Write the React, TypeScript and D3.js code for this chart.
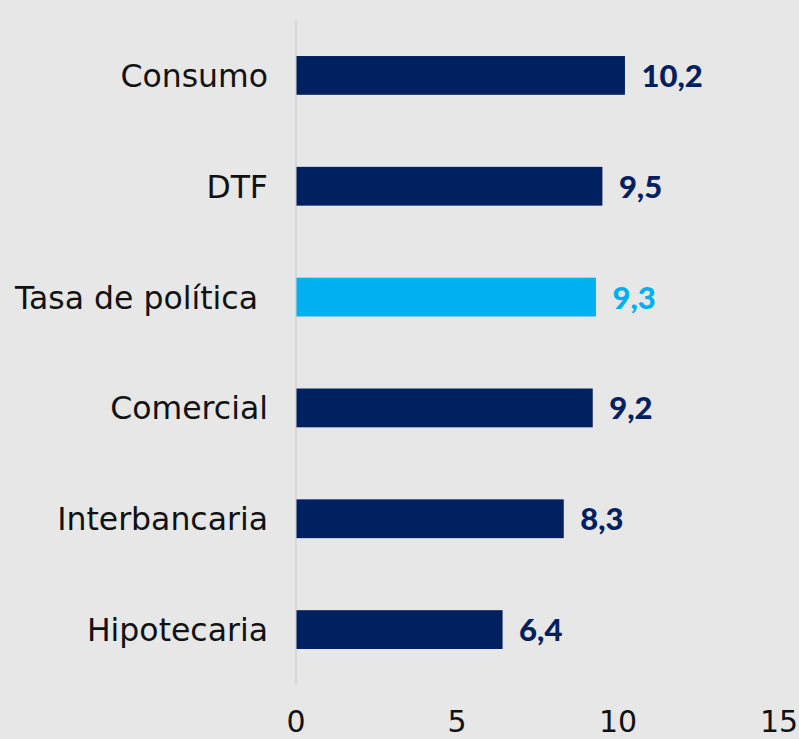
import React from "react"
import * as d3 from "d3"

const categories = ["Consumo", "DTF", "Tasa de política\u00a0", "Comercial", "Interbancaria", "Hipotecaria"]
const values = [10.2, 9.5, 9.3, 9.2, 8.3, 6.4]
const highlighted = [false, false, true, false, false, false]
const xTicks = [0, 5, 10, 15]

const W = 799
const H = 739
const NAVY = "#002060"
const CYAN = "#00b0f0"

const App = () => {
  const x = d3.scaleLinear().domain([0, 15]).range([296, 779])
  const y = d3.scaleBand<string>().domain(categories).range([20, 685]).paddingInner(0.65).paddingOuter(0.325)
  const fmt = (v: number) => v.toFixed(1).replace(".", ",")

  return (
    <svg width={W} height={H} style={{ position: "absolute", left: 0, top: 0 }}>
      <rect x={0} y={0} width={W} height={H} fill="#e7e7e7" />
      <line x1={x(0)} x2={x(0)} y1={20} y2={685} stroke="#d3d3d3" strokeWidth={1.5} />
      {categories.map((c, i) => {
        const cy = (y(c) as number) + y.bandwidth() / 2
        const color = highlighted[i] ? CYAN : NAVY
        return (
          <g key={c}>
            <rect x={x(0) + 0.5} y={y(c)} width={x(values[i]) - x(0)} height={y.bandwidth()} fill={color} />
            <text
              x={268}
              y={cy + 11.5}
              textAnchor="end"
              fontFamily="DejaVu Sans"
              fontSize={31.5}
              fill="#111"
            >
              {c}
            </text>
            <text
              x={x(values[i]) + 17}
              y={cy + 11.5}
              fontFamily="Lato"
              fontWeight={900}
              fontSize={31}
              fill={color}
            >
              {fmt(values[i])}
            </text>
          </g>
        )
      })}
      {xTicks.map(t => (
        <text
          key={t}
          x={x(t)}
          y={732}
          textAnchor="middle"
          fontFamily="DejaVu Sans"
          fontSize={30}
          fill="#111"
        >
          {t}
        </text>
      ))}
    </svg>
  )
}

export default App
